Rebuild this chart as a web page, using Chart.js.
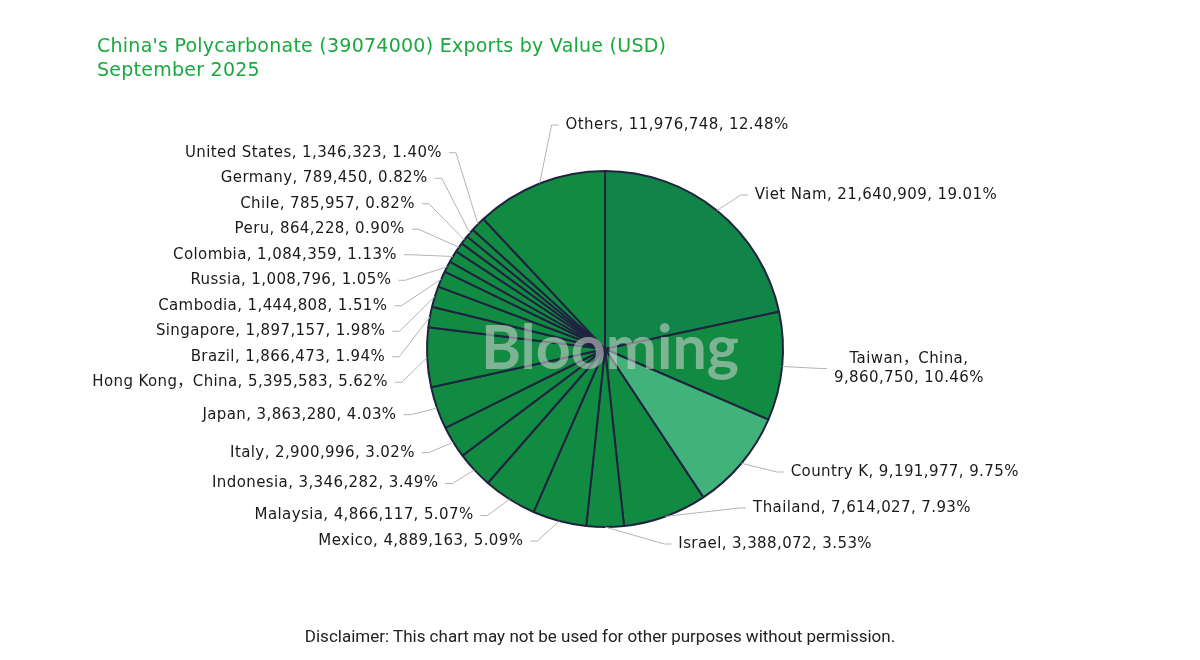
<!DOCTYPE html>
<html>
<head>
<meta charset="utf-8">
<script src="https://cdn.jsdelivr.net/npm/chart.js@4"></script>
<style>
  body { margin: 0; background: #fff; }
  #wrap { position: relative; width: 1200px; height: 660px; overflow: hidden; }
  canvas { position: absolute; left: 0; top: 0; }
  #title { position: absolute; left: 97px; top: 33px; color: #18a93f; font: 19px "DejaVu Sans"; letter-spacing: 0.25px; line-height: 24px; }
  #disclaimer { position: absolute; left: 0; top: 626px; width: 1200px; text-align: center; font: 17px Roboto; color: #222; }
</style>
</head>
<body>
<div id="wrap">
  <canvas id="pie" width="1200" height="660"></canvas>
  <div id="title">China's Polycarbonate (39074000) Exports by Value (USD)<br>September 2025</div>
  <div id="disclaimer">Disclaimer: This chart may not be used for other purposes without permission.</div>
</div>
<script>
const countries = ["Viet Nam", "Taiwan，China", "Country K", "Thailand", "Israel", "Mexico", "Malaysia", "Indonesia", "Italy", "Japan", "Hong Kong，China", "Brazil", "Singapore", "Cambodia", "Russia", "Colombia", "Peru", "Chile", "Germany", "United States", "Others"];
const exportValues = [21640909, 9860750, 9191977, 7614027, 3388072, 4889163, 4866117, 3346282, 2900996, 3863280, 5395583, 1866473, 1897157, 1444808, 1008796, 1084359, 864228, 785957, 789450, 1346323, 11976748];
const shareLabels = ["19.01%", "10.46%", "9.75%", "7.93%", "3.53%", "5.09%", "5.07%", "3.49%", "3.02%", "4.03%", "5.62%", "1.94%", "1.98%", "1.51%", "1.05%", "1.13%", "0.90%", "0.82%", "0.82%", "1.40%", "12.48%"];

// label layout settings
const S = {
    font: '15px "DejaVu Sans", "Noto Sans CJK SC"', spacing: "0.4px", color: "#1a1a1a", line: "#b4b4b4",
    radial: 20, reach: { "-1": 28, "1": 38 }, pitch: { "-1": 25.5, "1": 36 },
    tail: 7, gap: 7, lineH: 19, minDx: 22, maxRight: 1050, minY: 140, maxY: 562
};

function spread(list, pitch, minY, maxY) {
    list.sort((a, b) => a.y - b.y);
    list.forEach(it => it.h = it.lines.length === 1 ? pitch : it.lines.length * S.lineH + pitch - S.lineH);
    const blocks = list.map(it => ({ items: [it] }));
    const place = b => {
        let off = 0, sum = 0;
        b.items.forEach(it => { it.off = off + it.h / 2; sum += it.y - it.off; off += it.h; });
        b.size = off;
        b.top = Math.min(Math.max(sum / b.items.length, minY), maxY - b.size);
    };
    blocks.forEach(place);
    for (let k = 0; k < blocks.length - 1;) {
        if (blocks[k].top + blocks[k].size > blocks[k + 1].top) {
            blocks[k].items.push(...blocks[k + 1].items);
            blocks.splice(k + 1, 1);
            place(blocks[k]);
            k = Math.max(k - 1, 0);
        } else k++;
    }
    blocks.forEach(b => b.items.forEach(it => it.ly = b.top + it.off));
}

const pieLabels = {
    id: "pieLabels",
    afterDatasetsDraw(chart) {
        const ctx = chart.ctx;
        const arcs = chart.getDatasetMeta(0).data;
        const cx = arcs[0].x, cy = arcs[0].y, r = arcs[0].outerRadius;

        // watermark
        ctx.save();
        ctx.font = "bold 61px Lato";
        ctx.fillStyle = "rgba(215,215,215,0.55)";
        ctx.textAlign = "center";
        ctx.textBaseline = "middle";
        ctx.fillText("Blooming", cx + 5, cy);
        ctx.restore();

        ctx.save();
        ctx.font = S.font;
        ctx.letterSpacing = S.spacing;
        const items = arcs.map((arc, i) => {
            const mid = (arc.startAngle + arc.endAngle) / 2;
            const c = Math.cos(mid), s = Math.sin(mid);
            const text = countries[i] + ", " + exportValues[i].toLocaleString("en-US") + ", " + shareLabels[i];
            const it = { c, s, ax: cx + r * c, ay: cy + r * s, y: cy + (r + S.radial) * s, text, lines: [text],
                dir: c >= -0.01 ? 1 : -1, top: s < -0.9 };
            const x0 = cx + (r + S.reach[it.dir]) * c;
            if (it.dir > 0 && x0 + S.tail + S.gap + ctx.measureText(text).width > S.maxRight) {
                it.lines = [countries[i] + ",", exportValues[i].toLocaleString("en-US") + ", " + shareLabels[i]];
            }
            return it;
        });

        items.filter(it => it.top).forEach(it => {
            it.dir = 1;
            it.ex = it.ax + 12;
            it.ly = cy - r - 46;
        });

        [-1, 1].forEach(dir => {
            const rA = r + S.reach[dir];
            const side = items.filter(it => !it.top && it.dir === dir);
            spread(side, S.pitch[dir], S.minY, S.maxY);
            [side.filter(it => it.ly < cy), side.filter(it => it.ly >= cy)].forEach(semi => {
                if (!semi.length) return;
                let far = semi[0];
                semi.forEach(it => { if (Math.abs(it.ly - cy) > Math.abs(far.ly - cy)) far = it; });
                const fdy = Math.abs(far.ly - cy), fdx = Math.abs(far.c) * rA;
                let rB = fdx < rA ? fdy / Math.sqrt(1 - (fdx / rA) ** 2) : rA;
                rB = Math.max(rB, fdy * 1.04, 1);
                semi.forEach(it => {
                    const dy = Math.abs(it.ly - cy);
                    let ex = cx + dir * rA * Math.sqrt(Math.max(0, 1 - (dy / rB) ** 2));
                    if (dir * (ex - it.ax) < S.minDx) ex = it.ax + dir * S.minDx;
                    it.ex = ex;
                });
            });
        });

        ctx.strokeStyle = S.line;
        ctx.lineWidth = 1;
        ctx.fillStyle = S.color;
        ctx.textBaseline = "middle";
        items.forEach(it => {
            ctx.beginPath();
            ctx.moveTo(it.ax, it.ay);
            ctx.lineTo(it.ex, it.ly);
            ctx.lineTo(it.ex + it.dir * S.tail, it.ly);
            ctx.stroke();
            const tx = it.ex + it.dir * (S.tail + S.gap);
            if (it.lines.length === 1) {
                ctx.textAlign = it.dir > 0 ? "left" : "right";
                ctx.fillText(it.text, tx, it.ly);
            } else {
                const w = Math.max(...it.lines.map(l => ctx.measureText(l).width));
                ctx.textAlign = "center";
                it.lines.forEach((l, k) => {
                    ctx.fillText(l, tx + it.dir * w / 2, it.ly + (k - (it.lines.length - 1) / 2) * S.lineH);
                });
            }
        });
        ctx.restore();
    }
};

new Chart(document.getElementById("pie"), {
    type: "pie",
    data: {
        labels: countries,
        datasets: [{
            data: exportValues,
            backgroundColor: countries.map(c => c === "Country K" ? "#40b27a" : c === "Viet Nam" ? "#118448" : "#128b42"),
            borderColor: "#1f2340",
            borderWidth: 2,
            hoverOffset: 0
        }]
    },
    options: {
        responsive: false,
        animation: false,
        layout: { padding: { top: 170, bottom: 132, left: 305, right: 295 } },
        plugins: {
            legend: { display: false },
            tooltip: { enabled: false }
        }
    },
    plugins: [pieLabels]
});
</script>
</body>
</html>
